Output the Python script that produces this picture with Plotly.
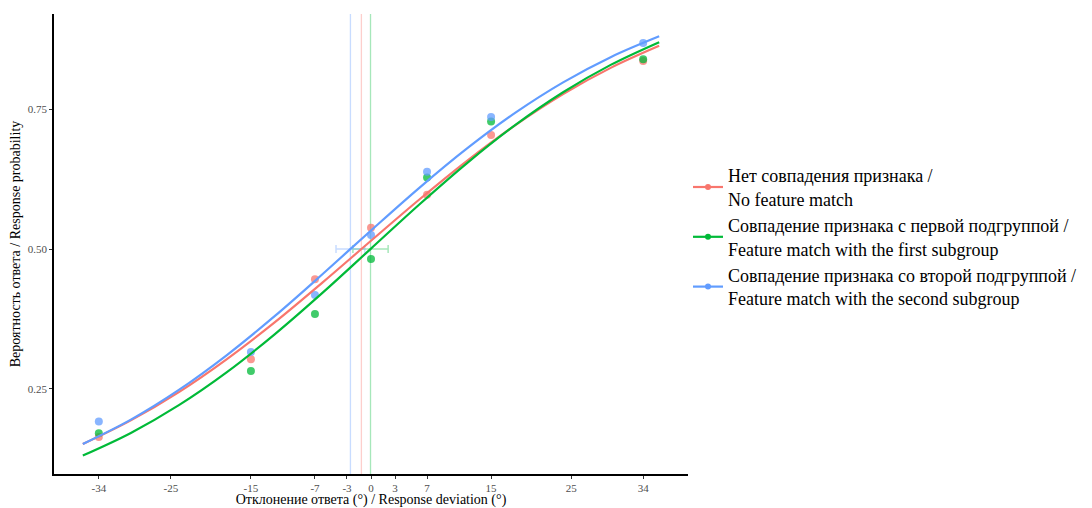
import plotly.graph_objects as go

# ---- data ----
deviation = [-34, -15, -7, 0, 7, 15, 34]
p_none = [0.164, 0.303, 0.446, 0.538, 0.597, 0.704, 0.836]
p_first = [0.171, 0.282, 0.384, 0.482, 0.628, 0.728, 0.839]
p_second = [0.192, 0.316, 0.418, 0.525, 0.638, 0.736, 0.868]

curve_x = [-36, -30, -24, -18, -12, -6, 0, 6, 12, 18, 24, 30, 36]
curve_none = [0.1515, 0.1938, 0.2444, 0.3034, 0.3694, 0.4409, 0.5148, 0.5881, 0.6577, 0.7211, 0.7769, 0.8242, 0.8632]
curve_first = [0.1310, 0.1714, 0.2210, 0.2800, 0.3480, 0.4225, 0.5008, 0.5791, 0.6536, 0.7213, 0.7801, 0.8295, 0.8697]
curve_second = [0.1516, 0.1952, 0.2483, 0.3106, 0.3805, 0.4558, 0.5332, 0.6090, 0.6798, 0.7433, 0.7979, 0.8433, 0.8801]

pse = [-1.2, -0.06, -2.57]          # points of subjective equality
pse_ci = [None, 2.2, 1.8]           # CI half widths (None = not shown)

names = ["Нет совпадения признака /<br>No feature match",
         "Совпадение признака с первой подгруппой /<br>Feature match with the first subgroup",
         "Совпадение признака со второй подгруппой /<br>Feature match with the second subgroup"]
colors = ["#F8766D", "#00BA38", "#619CFF"]
faint = ["rgba(248,118,109,0.35)", "rgba(0,186,56,0.35)", "rgba(97,156,255,0.35)"]

x_ticks = [-34, -25, -15, -7, -3, 0, 3, 7, 15, 25, 34]
y_ticks = [0.25, 0.50, 0.75]
y_ticklabels = ["0.25", "0.50", "0.75"]

points = [p_none, p_first, p_second]
curves = [curve_none, curve_first, curve_second]

FONT = "Times New Roman, Liberation Serif, serif"
fig = go.Figure()

for i in range(3):
    fig.add_shape(type="line", xref="x", yref="paper", x0=pse[i], x1=pse[i], y0=0, y1=1,
                  line=dict(color=faint[i], width=1.3), layer="below")

for i in range(3):
    if pse_ci[i] is not None:
        fig.add_trace(go.Scatter(x=[pse[i]], y=[0.5], mode="markers",
                                 marker=dict(size=1, color="rgba(0,0,0,0)"),
                                 error_x=dict(type="data", array=[pse_ci[i]], color=faint[i],
                                              thickness=1.5, width=4),
                                 showlegend=False, hoverinfo="skip"))

for i in range(3):
    fig.add_trace(go.Scatter(x=deviation, y=points[i], mode="markers",
                             marker=dict(size=8, color=colors[i], opacity=0.75),
                             showlegend=False, legendgroup=str(i)))

for i in range(3):
    fig.add_trace(go.Scatter(x=curve_x, y=curves[i], mode="lines",
                             line=dict(color=colors[i], width=2.2, shape="spline"),
                             showlegend=False, legendgroup=str(i)))

for i in range(3):
    fig.add_trace(go.Scatter(x=[None], y=[None], mode="lines+markers", name=names[i],
                             line=dict(color=colors[i], width=2.2),
                             marker=dict(size=6, color=colors[i]),
                             legendgroup=str(i)))

fig.update_layout(
    width=1084, height=500,
    margin=dict(l=46, r=404, t=6, b=34),
    plot_bgcolor="white", paper_bgcolor="white",
    font=dict(family=FONT, color="black"),
    legend=dict(x=1.0, y=0.515, xanchor="left", yanchor="middle",
                font=dict(family=FONT, size=18, color="black"),
                tracegroupgap=0, itemwidth=30, bgcolor="rgba(0,0,0,0)"),
    xaxis=dict(range=[-39.6, 39.6], tickvals=x_ticks, ticktext=[str(v) for v in x_ticks],
               automargin=False,
               showgrid=False, zeroline=False, showline=True, linecolor="black", linewidth=1.6,
               ticks="outside", ticklen=3, tickcolor="#333333", tickwidth=1,
               tickfont=dict(family=FONT, size=11, color="#4D4D4D"),
               title=dict(text="Отклонение ответа (°) / Response deviation (°)",
                          font=dict(family=FONT, size=14, color="black"), standoff=2)),
    yaxis=dict(range=[0.098, 0.92], tickvals=y_ticks, ticktext=y_ticklabels,
               automargin=False,
               showgrid=False, zeroline=False, showline=True, linecolor="black", linewidth=1.6,
               ticks="outside", ticklen=3, tickcolor="#333333", tickwidth=1,
               tickfont=dict(family=FONT, size=11, color="#4D4D4D"),
               title=dict(text="Вероятность ответа / Response probability",
                          font=dict(family=FONT, size=14, color="black"), standoff=4)),
)

fig.write_html("out.html")
